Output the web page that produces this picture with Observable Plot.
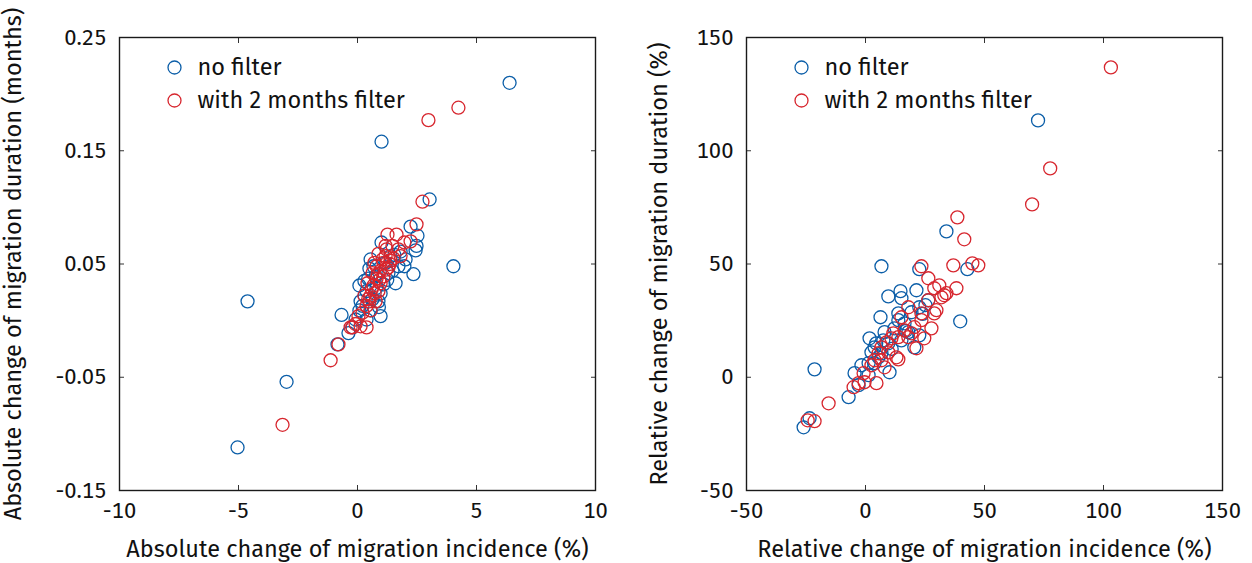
<!DOCTYPE html>
<html>
<head>
<meta charset="utf-8">
<script src="https://cdn.jsdelivr.net/npm/d3@7"></script>
<script src="https://cdn.jsdelivr.net/npm/@observablehq/plot@0.6"></script>
<style>
  html, body { margin: 0; padding: 0; background: #fff; }
  #wrap { display: flex; width: 1252px; height: 563px; }
  #wrap > div { width: 626px; height: 563px; }
  svg { font-family: "Fira Sans", "Noto Sans", sans-serif; }
</style>
</head>
<body>
<div id="wrap"><div id="left"></div><div id="right"></div></div>
<script>
// ---- Series names / legend
const seriesNames = ["no filter", "with 2 months filter"];
const seriesColors = ["#0b5ea8", "#d7262e"];

// ---- Left panel: absolute change (x: incidence %, y: duration months)
const absNoFilterX = [6.39,1.01,3.03,4.03,-4.62,-2.98,-5.04,2.35,2.23,2.52,2.48,2.44,1.01,1.60,0.08,-0.67,0.97,-0.38,-0.84,0.50,0.55,1.39,1.81,1.18,0.76,0.38,0.63,0.21,-0.08,0.38,0.88,1.09,1.47,2.02,1.72,0.80,0.13,0.55,-0.21,1.97,1.30,0.29,0.67,0.97,0.08,0.30,0.90,1.55,0.45,1.25];
const absNoFilterY = [0.210,0.158,0.107,0.048,0.017,-0.054,-0.112,0.041,0.083,0.075,0.066,0.062,0.069,0.033,0.031,0.005,0.004,-0.011,-0.021,0.046,0.054,0.057,0.061,0.051,0.039,0.026,0.019,0.013,0.001,0.001,0.017,0.032,0.044,0.054,0.048,0.029,0.017,0.009,-0.006,0.048,0.042,0.035,0.048,0.024,0.009,0.022,0.012,0.058,0.037,0.036];
const absFilterX = [4.24,2.98,2.73,2.48,-1.13,-3.15,-0.80,1.26,1.64,1.97,0.88,1.18,1.39,1.51,1.09,1.30,0.97,0.80,1.09,0.67,0.88,0.55,0.76,0.38,0.55,0.21,-0.08,0.13,0.38,-0.29,-0.21,1.72,1.47,1.22,0.71,0.63,0.42,0.29,0.97,1.18,1.81,0.80,0.50,0.04,2.23,1.05,1.35,0.60,0.72,0.92,1.20,0.45,0.85];
const absFilterY = [0.188,0.177,0.105,0.085,-0.035,-0.092,-0.021,0.076,0.076,0.069,0.059,0.057,0.053,0.055,0.051,0.047,0.044,0.037,0.039,0.031,0.026,0.022,0.017,0.013,0.009,0.007,-0.003,-0.005,-0.006,-0.006,-0.006,0.063,0.066,0.063,0.051,0.042,0.033,0.022,0.033,0.066,0.057,0.048,0.017,0.004,0.070,0.054,0.050,0.028,0.024,0.036,0.045,0.019,0.041];
const absXTicks = [-10, -5, 0, 5, 10];
const absXTickLabels = ["-10", "-5", "0", "5", "10"];
const absYTicks = [0.25, 0.15, 0.05, -0.05, -0.15];
const absYTickLabels = ["0.25", "0.15", "0.05", "-0.05", "-0.15"];

// ---- Right panel: relative change (x: incidence %, y: duration %)
const relNoFilterX = [72.5,-26.0,-21.4,-7.1,6.7,34.0,39.8,42.8,22.6,9.6,14.7,15.1,21.4,6.3,1.7,13.8,25.2,26.4,22.6,8.0,3.8,-4.6,-1.7,1.3,10.1,-2.9,7.5,12.2,18.0,22.6,15.1,2.5,5.5,1.3,9.6,13.8,16.4,20.5,3.8,6.7,19.3,-23.5,11.0,4.5,17.0,24.0];
const relNoFilterY = [113.4,-22.1,3.5,-8.8,49.0,64.4,24.7,47.7,47.7,35.7,38.0,34.9,38.4,26.5,17.2,28.2,31.8,34.0,30.9,19.9,13.2,1.8,5.3,6.2,2.2,-3.5,16.3,21.6,19.9,18.5,16.3,11.0,8.8,0.9,15.0,25.2,23.8,13.2,6.2,10.6,28.7,-18.1,12.5,15.0,20.5,28.0];
const relFilterX = [103.1,77.6,70.0,38.6,41.5,36.9,44.9,47.4,38.2,23.5,26.4,31.0,34.0,31.9,28.9,26.4,28.9,29.8,23.5,21.4,27.7,23.5,20.5,18.0,15.1,16.4,19.3,13.8,10.9,8.8,6.7,9.6,5.5,6.7,3.8,13.0,13.8,4.6,-0.4,-2.9,-5.0,-0.8,-15.5,-24.3,-21.4,2.5,8.0,18.0,11.7,24.7,33.1];
const relFilterY = [136.8,92.2,76.3,70.6,60.9,49.4,50.3,49.4,39.3,49.0,43.7,40.6,37.1,35.3,39.3,34.0,28.2,29.6,28.2,12.8,21.6,25.2,22.1,30.9,26.5,20.7,19.4,17.7,17.2,15.4,13.2,11.0,10.6,7.5,7.5,8.8,7.9,-2.6,-2.2,-2.6,-4.4,1.8,-11.5,-19.0,-19.4,5.3,4.4,17.7,19.4,17.2,36.2];
const relXTicks = [-50, 0, 50, 100, 150];
const relXTickLabels = ["-50", "0", "50", "100", "150"];
const relYTicks = [150, 100, 50, 0, -50];
const relYTickLabels = ["150", "100", "50", "0", "-50"];

function rows(xs, ys, s) { return xs.map((x, i) => ({x, y: ys[i], s})); }

function panelWithLegend(el, opts) {
  const data = [...rows(opts.xs1, opts.ys1, seriesNames[0]), ...rows(opts.xs2, opts.ys2, seriesNames[1])];
  const fmt = (ticks, labels) => d => labels[ticks.findIndex(t => Math.abs(t - d) < 1e-9)];
  const legendDy = [30, 63];
  const legendMarks = seriesNames.flatMap((name, i) => [
    Plot.dot([name], {frameAnchor: "top-left", dx: 55, dy: legendDy[i], stroke: seriesColors[i], r: 6.5, strokeWidth: 1.3, fill: "none"}),
    Plot.text([name], {frameAnchor: "top-left", dx: 78, dy: legendDy[i], text: d => d, textAnchor: "start", lineAnchor: "middle", fontSize: 23.5, fill: "#111"})
  ]);
  const svg = Plot.plot({
    width: 626, height: 563,
    marginLeft: opts.marginLeft, marginRight: opts.marginRight, marginTop: 37, marginBottom: 73,
    style: {fontSize: "22px", fontFamily: '"Fira Sans","Noto Sans",sans-serif', color: "#111", overflow: "visible"},
    x: {domain: opts.xDomain},
    y: {domain: opts.yDomain},
    color: {domain: seriesNames, range: seriesColors},
    marks: [
      Plot.axisX({anchor: "bottom", ticks: opts.xTicks, tickSize: -5, tickFormat: () => "", label: null, stroke: "#333"}),
      Plot.axisX({anchor: "top", ticks: opts.xTicks, tickSize: -5, tickFormat: () => "", label: null, stroke: "#333"}),
      Plot.axisY({anchor: "left", ticks: opts.yTicks, tickSize: -5, tickFormat: () => "", label: null, stroke: "#333"}),
      Plot.axisY({anchor: "right", ticks: opts.yTicks, tickSize: -5, tickFormat: () => "", label: null, stroke: "#333"}),
      Plot.axisX({anchor: "bottom", ticks: opts.xTicks, tickSize: 0, tickPadding: 12, tickFormat: fmt(opts.xTicks, opts.xLabels),
        fontSize: 22, label: null}),
      Plot.axisX({anchor: "bottom", ticks: [], tickSize: 0, fontSize: 23.5, label: opts.xLabel, labelAnchor: "center", labelArrow: "none", labelOffset: 66}),
      Plot.axisY({anchor: "left", ticks: opts.yTicks, tickSize: 0, tickPadding: 13, tickFormat: fmt(opts.yTicks, opts.yLabels),
        fontSize: 22, label: null}),
      Plot.axisY({anchor: "left", ticks: [], tickSize: 0, fontSize: 23.5, label: opts.yLabel, labelAnchor: "center", labelArrow: "none", labelOffset: opts.yLabelOffset}),
      Plot.frame({stroke: "#1a1a1a", strokeWidth: 1.4}),
      Plot.dot(data, {x: "x", y: "y", stroke: "s", r: 6.5, strokeWidth: 1.3, fill: "none"}),
      ...legendMarks
    ]
  });
  document.getElementById(el).append(svg);
}

panelWithLegend("left", {
  xs1: absNoFilterX, ys1: absNoFilterY, xs2: absFilterX, ys2: absFilterY,
  xDomain: [-10, 10], yDomain: [-0.15, 0.25],
  xTicks: absXTicks, xLabels: absXTickLabels, yTicks: absYTicks, yLabels: absYTickLabels,
  xLabel: "Absolute change of migration incidence (%)",
  yLabel: "Absolute change of migration duration (months)",
  marginLeft: 119, marginRight: 31, yLabelOffset: 115
});
panelWithLegend("right", {
  xs1: relNoFilterX, ys1: relNoFilterY, xs2: relFilterX, ys2: relFilterY,
  xDomain: [-50, 150], yDomain: [-50, 150],
  xTicks: relXTicks, xLabels: relXTickLabels, yTicks: relYTicks, yLabels: relYTickLabels,
  xLabel: "Relative change of migration incidence (%)",
  yLabel: "Relative change of migration duration (%)",
  marginLeft: 120, marginRight: 30, yLabelOffset: 96
});
</script>
</body>
</html>
